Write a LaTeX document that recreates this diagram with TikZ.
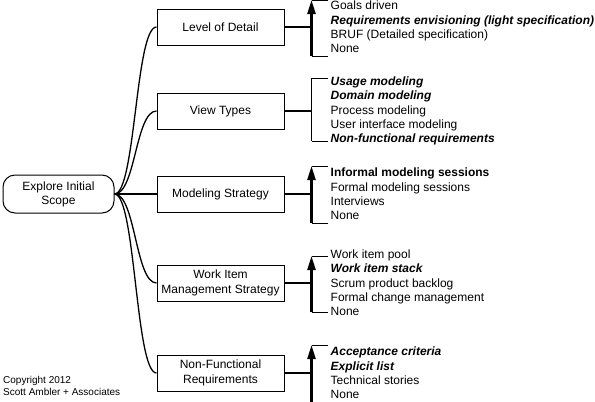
\documentclass[tikz,border=0pt]{standalone}
\usepackage{fontspec}
\setmainfont{Liberation Sans}
\usetikzlibrary{
  positioning,
  arrows.meta,
  calc
}
\newcommand{\best}[1]{\textbf{\textit{#1}}}

\begin{document}
\begin{tikzpicture}[
  x=1pt, y=1pt,
  root/.style={draw, line width=1pt, rounded corners=12pt,
               minimum width=111pt, minimum height=38pt, inner sep=0pt,
               font=\fontsize{12}{14}\selectfont, align=center},
  topic/.style={draw, line width=1pt,
                minimum width=127pt, minimum height=36pt, inner sep=0pt,
                font=\fontsize{12}{14.5}\selectfont, align=center},
  choices/.style={anchor=west, inner sep=0pt,
                  font=\fontsize{12}{14.3}\selectfont, align=left},
  link/.style={line width=1.3pt},
  bar/.style={line width=2.4pt, -{Triangle[length=14pt, width=8pt]}},
  tick/.style={line width=0.9pt},
]
\useasboundingbox (0,0) rectangle (595,-402);

\node[root] (scope) at (58.5,-194) {Explore Initial\\Scope};
\node[topic, right=42pt of scope] (strategy) {Modeling Strategy};
\node[topic, above=46pt of strategy] (views) {View Types};
\node[topic, above=47pt of views] (detail) {Level of Detail};
\node[topic, below=52pt of strategy] (workitems) {Work Item\\Management Strategy};
\node[topic, below=53pt of workitems] (nfr) {Non-Functional\\Requirements};

% option lists
\node[choices, right=46pt of detail] (detail-opts)
  {Goals driven\\\best{Requirements envisioning (light specification)}\\BRUF (Detailed specification)\\None};
\node[choices, right=46pt of views] (views-opts)
  {\best{Usage modeling}\\\best{Domain modeling}\\Process modeling\\User interface modeling\\\best{Non-functional requirements}};
\node[choices, right=46pt of strategy] (strategy-opts)
  {\textbf{Informal modeling sessions}\\Formal modeling sessions\\Interviews\\None};
\node[choices, right=46pt of workitems] (workitems-opts)
  {Work item pool\\\best{Work item stack}\\Scrum product backlog\\Formal change management\\None};
\node[choices, right=46pt of nfr] (nfr-opts)
  {\best{Acceptance criteria}\\\best{Explicit list}\\Technical stories\\None};

% bracket ends
\coordinate (detail-hub) at ($(detail.east)+(27,0)$);
\coordinate (detail-top) at ($(detail.east)+(27,27)$);
\coordinate (detail-bot) at ($(detail.east)+(27,-29)$);
\coordinate (views-hub) at ($(views.east)+(27,0)$);
\coordinate (views-top) at ($(views.east)+(27,33)$);
\coordinate (views-bot) at ($(views.east)+(27,-30)$);
\coordinate (strategy-hub) at ($(strategy.east)+(27,0)$);
\coordinate (strategy-top) at ($(strategy.east)+(27,28)$);
\coordinate (strategy-bot) at ($(strategy.east)+(27,-29)$);
\coordinate (workitems-hub) at ($(workitems.east)+(27,0)$);
\coordinate (workitems-top) at ($(workitems.east)+(27,27)$);
\coordinate (workitems-bot) at ($(workitems.east)+(27,-29)$);
\coordinate (nfr-hub) at ($(nfr.east)+(27,0)$);
\coordinate (nfr-top) at ($(nfr.east)+(27,28)$);
\coordinate (nfr-bot) at ($(nfr.east)+(27,-29)$);

% branches from the root
\draw[link] (scope.east) to[out=0, in=180, distance=21pt] (detail.west);
\draw[link] (scope.east) to[out=0, in=180, distance=21pt] (views.west);
\draw[link] (scope) -- (strategy);
\draw[link] (scope.east) to[out=0, in=180, distance=21pt] (workitems.west);
\draw[link] (scope.east) to[out=0, in=180, distance=21pt] (nfr.west);

% brackets
\draw[link] (detail) -- (detail-hub);
\draw[bar] (detail-bot) -- (detail-top);
\draw[tick] (detail-top) -- ++(16,0);
\draw[tick] (detail-bot) -- ++(16,0);

\draw[link] (views) -- (views-hub);
\draw[tick] (views-bot) -- (views-top);
\draw[tick] (views-top) -- ++(16,0);
\draw[tick] (views-bot) -- ++(16,0);

\draw[link] (strategy) -- (strategy-hub);
\draw[bar] (strategy-bot) -- (strategy-top);
\draw[tick] (strategy-top) -- ++(16,0);
\draw[tick] (strategy-bot) -- ++(16,0);

\draw[link] (workitems) -- (workitems-hub);
\draw[bar] (workitems-bot) -- (workitems-top);
\draw[tick] (workitems-top) -- ++(16,0);
\draw[tick] (workitems-bot) -- ++(16,0);

\draw[link] (nfr) -- (nfr-hub);
\draw[bar] (nfr-bot) -- (nfr-top);
\draw[tick] (nfr-top) -- ++(16,0);
\draw[tick] (nfr-bot) -- ++(16,0);

\node[anchor=west, inner sep=0pt, font=\fontsize{10}{12}\selectfont, align=left]
  (credit) at (3,-386) {Copyright 2012\\Scott Ambler + Associates};

\end{tikzpicture}
\end{document}
